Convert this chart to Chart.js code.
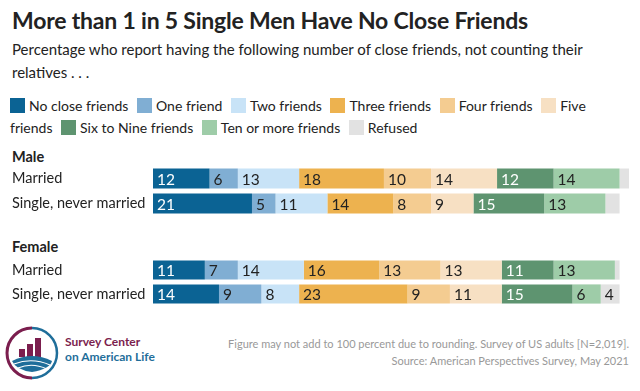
<!DOCTYPE html>
<html>
<head>
<meta charset="utf-8">
<script src="https://cdn.jsdelivr.net/npm/chart.js@4/dist/chart.umd.min.js"></script>
<style>
  html, body { margin: 0; padding: 0; background: #fff; }
  body { width: 640px; height: 391px; overflow: hidden; position: relative; font-family: Lato, "Open Sans", sans-serif; color: #222; }
  .title { position: absolute; left: 12px; top: 6px; font-size: 23px; font-weight: 700; letter-spacing: -0.2px; color: #222; }
  .sub { position: absolute; left: 12px; top: 38px; width: 590px; font-size: 15px; line-height: 23px; color: #222; }
  .legend { position: absolute; left: 10px; top: 95px; width: 585px; font-size: 14px; line-height: 22px; color: #222; }
  .legend .sw { display: inline-block; width: 15px; height: 15px; vertical-align: -2px; margin-right: 4px; }
  .legend .it { margin-right: 5px; }
  .grp { position: absolute; left: 12px; font-size: 14.5px; font-weight: 700; }
  canvas { position: absolute; left: 0; }
  .foot { position: absolute; right: 11px; top: 335px; text-align: right; font-size: 11px; line-height: 17px; color: #999; }
  .logo { position: absolute; left: 4px; top: 325px; }
  .logo-t { position: absolute; left: 65px; top: 334px; font-size: 12px; line-height: 15px; font-weight: 700; }
</style>
</head>
<body>
<div class="title">More than 1 in 5 Single Men Have No Close Friends</div>
<div class="sub">Percentage who report having the following number of close friends, not counting their relatives . . .</div>
<div class="legend" id="legend"></div>

<div class="grp" style="top:148px">Male</div>
<canvas id="male" width="629" height="50" style="top:166px"></canvas>
<div class="grp" style="top:238px">Female</div>
<canvas id="female" width="629" height="48" style="top:258px"></canvas>

<svg class="logo" width="56" height="56" viewBox="0 0 56 56">
  <path d="M28 3 A25 25 0 0 0 28 53" fill="none" stroke="#7b1e4e" stroke-width="3"/>
  <path d="M28 3 A25 25 0 0 1 28 53" fill="none" stroke="#1f6e9a" stroke-width="2.5"/>
  <rect x="15" y="24" width="6" height="8" fill="#7b1e4e"/>
  <rect x="23" y="19" width="6" height="13" fill="#7b1e4e"/>
  <rect x="31" y="13" width="6" height="19" fill="#7b1e4e"/>
  <path d="M8 36 Q28 26 48 36 Q46 44 28 47 Q12 45 8 36 Z" fill="#1f6e9a"/>
  <path d="M10 39 Q28 32 46 40" fill="none" stroke="#fff" stroke-width="1.2"/>
  <path d="M14 43 Q28 37 43 44" fill="none" stroke="#fff" stroke-width="1.2"/>
</svg>
<div class="logo-t"><span style="color:#7b1e4e">Survey Center</span><br><span style="color:#1f6e9a">on American Life</span></div>

<div class="foot">Figure may not add to 100 percent due to rounding. Survey of US adults [N=2,019].<br>Source: American Perspectives Survey, May 2021</div>

<script>
const seriesNames = ['No close friends', 'One friend', 'Two friends', 'Three friends', 'Four friends', 'Five friends', 'Six to Nine friends', 'Ten or more friends', 'Refused']
const colors = ['#0b6394', '#80aed3', '#c8e3f7', '#edb24f', '#f4cc91', '#f7e0c3', '#5e9470', '#9ecca8', '#e2e2e2']
const textColors = ['#fff', '#222', '#222', '#222', '#222', '#222', '#fff', '#222', '#222']
const rows = ['Married', 'Single, never married']

// values per series: [Married, Single]
const male = [
  [12, 21], [6, 5], [13, 11], [18, 14], [10, 8], [14, 9], [12, 15], [14, 13], [2, 3]
]
const female = [
  [11, 14], [7, 9], [14, 8], [16, 23], [13, 9], [13, 11], [11, 15], [13, 6], [1, 4]
]

const legend = document.getElementById('legend')
legend.innerHTML = seriesNames.map((n, i) =>
  '<span class="it"><span class="sw" style="background:' + colors[i] + '"></span>' + n + '</span> '
).join('')

const barLabels = {
  id: 'barLabels',
  afterDatasetsDraw(chart) {
    const ctx = chart.ctx
    ctx.save()
    ctx.font = '15.5px Lato, sans-serif'
    ctx.textBaseline = 'middle'
    ctx.textAlign = 'left'
    chart.data.datasets.forEach((ds, i) => {
      const meta = chart.getDatasetMeta(i)
      meta.data.forEach((bar, j) => {
        const v = ds.data[j]
        if (v < 4) return
        ctx.fillStyle = textColors[i]
        ctx.fillText(v, Math.min(bar.base, bar.x) + 4, bar.y + 1)
      })
    })
    ctx.restore()
  }
}

function makeChart(id, values) {
  return new Chart(document.getElementById(id), {
    type: 'bar',
    data: {
      labels: rows,
      datasets: values.map((d, i) => ({
        label: seriesNames[i],
        data: d,
        backgroundColor: colors[i],
        borderWidth: 0,
        barPercentage: 0.8,
        categoryPercentage: 1
      }))
    },
    options: {
      indexAxis: 'y',
      responsive: false,
      animation: false,
      layout: { padding: { left: 12, right: 0, top: 0, bottom: 0 } },
      plugins: { legend: { display: false }, tooltip: { enabled: false } },
      scales: {
        x: { stacked: true, min: 0, max: 101, display: false },
        y: {
          stacked: true,
          grid: { display: false },
          border: { display: false },
          ticks: { crossAlign: 'far', color: '#222', font: { family: 'Lato', size: 14.5 }, padding: 0 },
          afterFit(scale) {
            scale.width = 141
            scale.paddingTop = 0
            scale.paddingBottom = 0
          }
        }
      }
    },
    plugins: [barLabels]
  })
}

makeChart('male', male)
makeChart('female', female)
</script>
</body>
</html>
